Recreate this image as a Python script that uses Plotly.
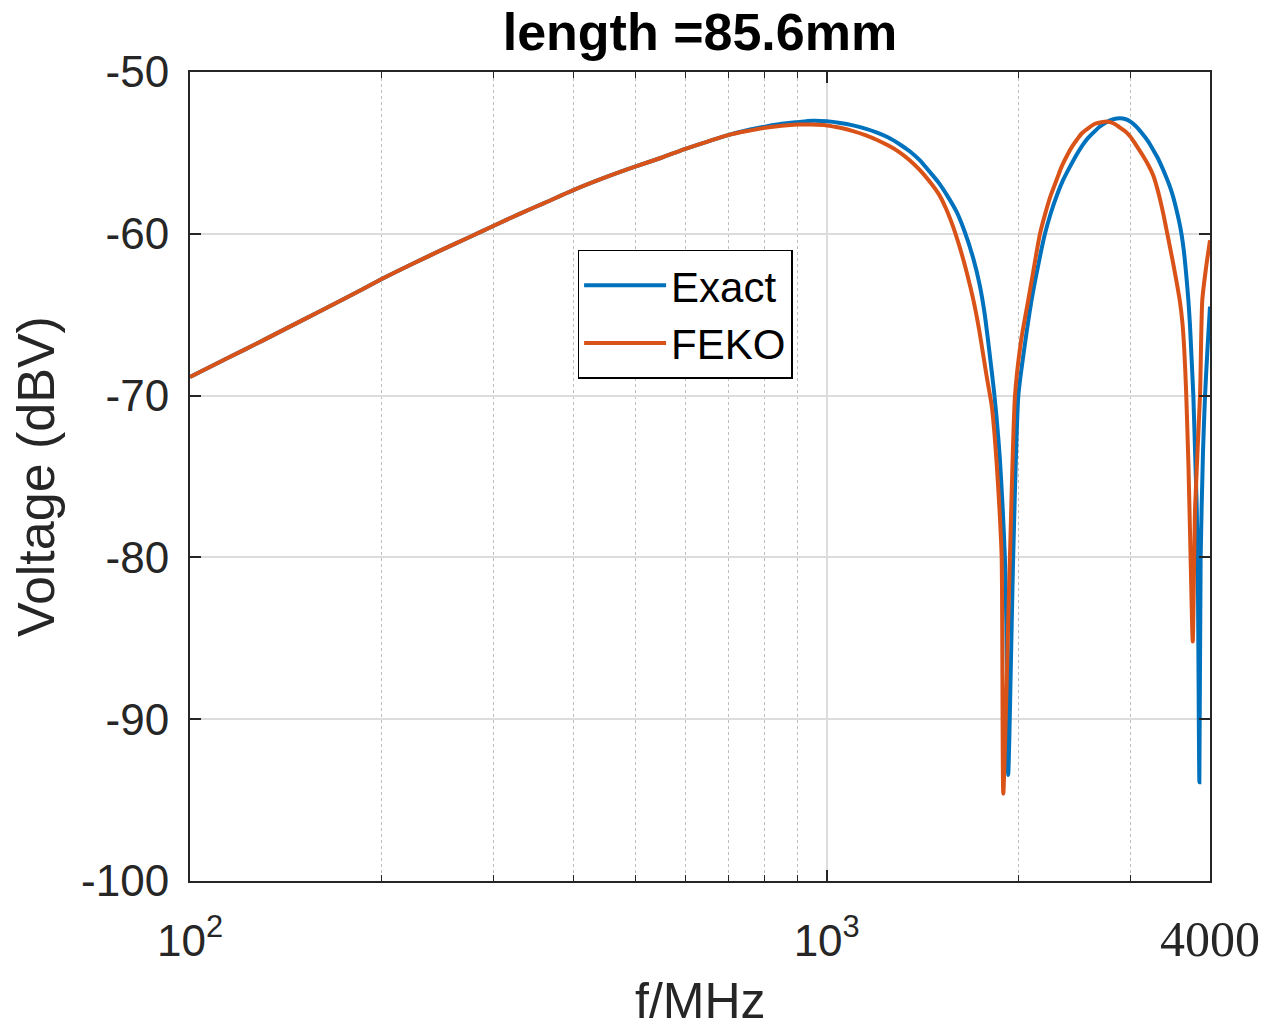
import plotly.graph_objects as go

# ---- data ----
freq_exact = [100, 115, 130, 150, 175, 200, 225, 250, 275, 300, 330, 360, 400, 450, 500,
              550, 600, 650, 700, 750, 800, 850, 900, 950, 1000, 1050, 1100, 1150, 1200,
              1250, 1300, 1350, 1400, 1450, 1500, 1550, 1600, 1650, 1700, 1740, 1770,
              1790, 1810, 1830, 1850, 1870, 1890, 1905, 1915, 1928, 1963, 2000, 2040,
              2098, 2150, 2202, 2250, 2300, 2350, 2411, 2470, 2520, 2570, 2623, 2680,
              2750, 2820, 2888, 2950, 3000, 3060, 3130, 3200, 3258, 3310, 3360, 3410,
              3461, 3500, 3540, 3580, 3611, 3640, 3670, 3699, 3720, 3740, 3766, 3790,
              3810, 3826, 3849, 3867, 3900, 3929, 3965, 4000]
volt_exact = [-68.85, -67.65, -66.6, -65.35, -64.0, -62.8, -61.8, -60.95, -60.2, -59.5,
              -58.75, -58.1, -57.3, -56.5, -55.85, -55.3, -54.75, -54.3, -53.9, -53.6,
              -53.38, -53.2, -53.1, -53.02, -53.05, -53.15, -53.3, -53.5, -53.75, -54.05,
              -54.45, -54.9, -55.45, -56.15, -56.85, -57.7, -58.65, -59.95, -61.55, -63.2,
              -64.9, -66.4, -68.0, -69.6, -71.5, -73.8, -77.0, -80.0, -84.0, -93.45,
              -80.0, -70.0, -67.3, -64.1, -61.9, -60.0, -58.7, -57.6, -56.7, -55.85,
              -55.1, -54.55, -54.1, -53.75, -53.4, -53.1, -52.92, -52.86, -52.92, -53.07,
              -53.35, -53.8, -54.3, -54.82, -55.3, -55.85, -56.45, -57.1, -57.7, -58.45,
              -59.3, -60.1, -61.1, -62.5, -64.1, -65.6, -67.5, -70.0, -73.5, -76.5,
              -80.0, -93.9, -80.0, -73.5, -70.0, -67.0, -64.5]

freq_feko = [100, 115, 130, 150, 175, 200, 225, 250, 275, 300, 330, 360, 400, 450, 500,
             550, 600, 650, 700, 750, 800, 850, 900, 950, 1000, 1050, 1100, 1150, 1200,
             1250, 1300, 1350, 1400, 1450, 1500, 1540, 1581, 1620, 1660, 1700, 1735,
             1760, 1785, 1816, 1835, 1850, 1868, 1883, 1894, 1940, 1976,
             2020, 2073, 2120, 2163, 2210, 2250, 2300, 2339, 2390, 2430, 2470, 2515,
             2580, 2640, 2700, 2770, 2830, 2880, 2940, 3000, 3060, 3130, 3200, 3258,
             3300, 3340, 3380, 3420, 3460, 3500, 3540, 3588, 3620, 3645, 3668, 3700,
             3729, 3758, 3790, 3858, 3890, 3940, 4000]
volt_feko = [-68.85, -67.65, -66.6, -65.35, -64.0, -62.8, -61.8, -60.95, -60.2, -59.5,
             -58.75, -58.1, -57.3, -56.5, -55.85, -55.3, -54.75, -54.3, -53.9, -53.65,
             -53.45, -53.32, -53.25, -53.25, -53.3, -53.45, -53.65, -53.9, -54.2, -54.55,
             -54.95, -55.45, -56.05, -56.75, -57.55, -58.45, -59.6, -60.9, -62.4, -64.1,
             -65.9, -67.4, -68.9, -70.6, -72.4, -74.3, -77.0, -80.0,
             -94.6, -80.0, -70.0, -66.6, -64.1, -61.9, -60.0, -58.6, -57.6, -56.6,
             -55.85, -55.1, -54.6, -54.2, -53.8, -53.45, -53.2, -53.1, -53.07, -53.2,
             -53.4, -53.65, -54.0, -54.5, -55.1, -55.75, -56.4, -57.1, -57.9, -58.8,
             -59.8, -60.8, -61.8, -62.85, -64.2, -65.5, -67.2, -69.6, -74.3, -80.0,
             -85.2, -76.9, -70.0, -64.1, -62.2, -60.4]

series_names = ["Exact", "FEKO"]
series_colors = ["#0072BD", "#D95319"]

x_tickvals = [100, 1000, 4000]
x_ticktext = ["10<sup>2</sup>", "10<sup>3</sup>",
              '<span style="font-family:Liberation Serif, serif;font-size:50px">4000</span>']
x_minor_vals = [200, 300, 400, 500, 600, 700, 800, 900, 2000, 3000]
y_tickvals = [-100, -90, -80, -70, -60, -50]
y_ticktext = ["-100", "-90", "-80", "-70", "-60", "-50"]

title_text = "length =85.6mm"
x_title = "f/MHz"
y_title = "Voltage (dBV)"

AX = "#262626"
FONT = "Liberation Sans, Arial, sans-serif"

fig = go.Figure()
for name, fx, vy, col in zip(series_names, [freq_exact, freq_feko],
                             [volt_exact, volt_feko], series_colors):
    fig.add_trace(go.Scatter(x=fx, y=vy, mode="lines", name=name,
                             line=dict(color=col, width=4, shape="spline",
                                       smoothing=0.6)))

fig.update_layout(
    width=1271, height=1033,
    margin=dict(l=190, r=61, t=72, b=152),
    paper_bgcolor="white", plot_bgcolor="white",
    font=dict(family=FONT, color=AX, size=44),
    title=dict(text="<b>" + title_text + "</b>", x=0.5507, xanchor="center",
               y=0.969, yanchor="middle", yref="container",
               font=dict(size=52, color="black", family=FONT)),
    showlegend=True,
    legend=dict(x=0.380, y=0.780, xanchor="left", yanchor="top",
                bgcolor="white", bordercolor="#000000", borderwidth=1.5,
                font=dict(size=42, color="black", family=FONT),
                itemwidth=82, tracegroupgap=0),
    annotations=[dict(text=x_title, xref="paper", yref="paper", x=0.5, y=-0.1842,
                      xanchor="center", yanchor="bottom", showarrow=False,
                      borderpad=0,
                      font=dict(size=50, color=AX, family=FONT))],
)

fig.update_xaxes(
    type="log", range=[2, 3.60206], automargin=False,
    tickmode="array", tickvals=x_tickvals, ticktext=x_ticktext,
    ticks="inside", ticklen=11, tickwidth=1.5, tickcolor=AX,
    showline=True, linecolor=AX, linewidth=2, mirror="ticks",
    showgrid=True, gridcolor="#dcdcdc", gridwidth=1.5,
    zeroline=False,
    ticklabelstandoff=20,
    tickfont=dict(size=44, color=AX),
    minor=dict(tickmode="array", tickvals=x_minor_vals, ticks="inside",
               ticklen=6, tickcolor=AX, tickwidth=1,
               showgrid=True, gridcolor="#bdbdbd", griddash="dot", gridwidth=1),
)

fig.update_yaxes(
    range=[-100, -50], automargin=False,
    tickmode="array", tickvals=y_tickvals, ticktext=y_ticktext,
    ticks="inside", ticklen=11, tickwidth=1.5, tickcolor=AX,
    showline=True, linecolor=AX, linewidth=2, mirror="ticks",
    showgrid=True, gridcolor="#dcdcdc", gridwidth=1.5,
    zeroline=False,
    ticklabelstandoff=10,
    tickfont=dict(size=44, color=AX),
    title=dict(text=y_title, standoff=10, font=dict(size=52, color=AX)),
)

fig.write_html("out.html")
